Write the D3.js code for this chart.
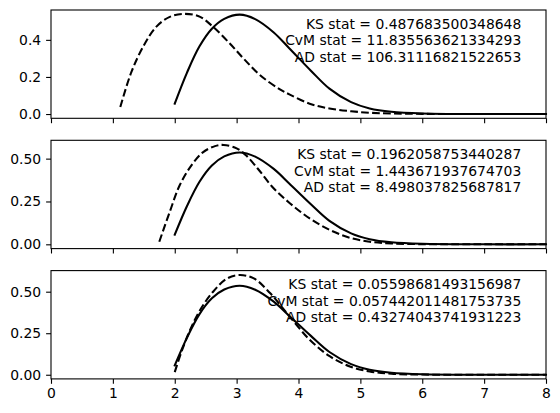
<!DOCTYPE html>
<html>
<head>
<meta charset="utf-8">
<script src="https://cdn.jsdelivr.net/npm/d3@7"></script>
<style>
  body { margin: 0; background: #fff; }
  text { font-family: "DejaVu Sans", sans-serif; }
</style>
</head>
<body>
<svg width="560" height="413"></svg>
<script>
// observed distribution (same in every panel)
const solidX = [2.0, 2.2, 2.4, 2.6, 2.8, 3.05, 3.3, 3.6, 3.85, 4.2, 4.5, 4.85, 5.15, 5.5, 6.0, 7.0, 8.0]
const solidY = [0.056, 0.225, 0.365, 0.46, 0.513, 0.536, 0.512, 0.44, 0.355, 0.234, 0.137, 0.064, 0.03, 0.012, 0.003, 0.0, 0.0]

// fitted distributions, one per panel
const dash1X = [1.12, 1.3, 1.5, 1.7, 1.92, 2.17, 2.41, 2.62, 2.89, 3.11, 3.38, 3.7, 3.86, 4.18, 4.5, 4.85, 5.15, 5.5, 6.0, 7.0, 8.0]
const dash1Y = [0.038, 0.227, 0.37, 0.47, 0.524, 0.54, 0.524, 0.47, 0.38, 0.3, 0.209, 0.133, 0.105, 0.056, 0.03, 0.015, 0.007, 0.003, 0.001, 0.0, 0.0]
const dash2X = [1.75, 1.92, 2.08, 2.27, 2.46, 2.65, 2.79, 3.0, 3.15, 3.35, 3.59, 3.86, 4.18, 4.51, 4.83, 5.15, 5.5, 6.0, 7.0, 8.0]
const dash2Y = [0.015, 0.19, 0.345, 0.461, 0.538, 0.573, 0.58, 0.56, 0.52, 0.438, 0.33, 0.24, 0.151, 0.083, 0.038, 0.015, 0.005, 0.001, 0.0, 0.0]
const dash3X = [2.0, 2.11, 2.25, 2.41, 2.62, 2.84, 3.03, 3.27, 3.54, 3.81, 4.18, 4.51, 4.83, 5.15, 5.5, 6.0, 7.0, 8.0]
const dash3Y = [0.016, 0.14, 0.271, 0.39, 0.5, 0.578, 0.6, 0.582, 0.492, 0.372, 0.211, 0.11, 0.05, 0.02, 0.006, 0.001, 0.0, 0.0]

const ksStats = ['0.487683500348648', '0.1962058753440287', '0.05598681493156987']
const cvmStats = ['11.835563621334293', '1.443671937674703', '0.057442011481753735']
const adStats = ['106.31116821522653', '8.498037825687817', '0.43274043741931223']

const xTicks = [0, 1, 2, 3, 4, 5, 6, 7, 8]
const yTicks = [[0, 0.2, 0.4], [0, 0.25, 0.5], [0, 0.25, 0.5]]
const yFormats = ['.1f', '.2f', '.2f']
const yDomains = [[-0.023, 0.561], [-0.025, 0.607], [-0.025, 0.627]]

const svg = d3.select('svg')
const left = 51, right = 546
const tops = [10, 140.3, 270.6]
const panelH = 108.3
const fs = 13.9

const xScale = d3.scaleLinear().domain([0, 8]).range([left, right])

const dashes = [[dash1X, dash1Y], [dash2X, dash2Y], [dash3X, dash3Y]]
const solid = solidX.map((x, i) => [x, solidY[i]])

tops.forEach((top, p) => {
    const yScale = d3.scaleLinear().domain(yDomains[p]).range([top + panelH, top])
    const line = d3.line()
        .x(d => xScale(d[0]))
        .y(d => yScale(d[1]))
        .curve(d3.curveCatmullRom.alpha(0.5))

    const g = svg.append('g')

    const dashed = dashes[p][0].map((x, i) => [x, dashes[p][1][i]])

    g.append('path').datum(dashed)
        .attr('d', line)
        .attr('fill', 'none')
        .attr('stroke', '#000')
        .attr('stroke-width', 2.08)
        .attr('stroke-dasharray', '7.7,3.3')

    g.append('path').datum(solid)
        .attr('d', line)
        .attr('fill', 'none')
        .attr('stroke', '#000')
        .attr('stroke-width', 2.08)
        .attr('stroke-linecap', 'square')

    // frame
    g.append('rect')
        .attr('x', left).attr('y', top)
        .attr('width', right - left).attr('height', panelH)
        .attr('fill', 'none')
        .attr('stroke', '#000')
        .attr('stroke-width', 1.1)

    const xAxis = d3.axisBottom(xScale)
        .tickValues(xTicks)
        .tickSize(4.9)
        .tickPadding(4.2)
        .tickFormat(p === 2 ? d3.format('d') : '')
    const xg = g.append('g')
        .attr('transform', `translate(0, ${top + panelH})`)
        .call(xAxis)
    xg.select('.domain').remove()

    const yAxis = d3.axisLeft(yScale)
        .tickValues(yTicks[p])
        .tickSize(4.9)
        .tickPadding(4.9)
        .tickFormat(d3.format(yFormats[p]))
    const yg = g.append('g')
        .attr('transform', `translate(${left}, 0)`)
        .call(yAxis)
    yg.select('.domain').remove()

    g.selectAll('.tick line').attr('stroke', '#000').attr('stroke-width', 1.1)
    g.selectAll('.tick text')
        .attr('fill', '#000')
        .style('font-size', fs + 'px')
        .style('font-family', '"DejaVu Sans", sans-serif')

    // stats text, right aligned at 95% of the axes
    const tx = left + 0.95 * (right - left)
    const ty = top + 0.05 * panelH + 13.2
    const lines = ['KS stat = ' + ksStats[p], 'CvM stat = ' + cvmStats[p], 'AD stat = ' + adStats[p]]
    g.selectAll('text.stat').data(lines)
        .enter().append('text')
        .attr('class', 'stat')
        .attr('x', tx)
        .attr('y', (d, i) => ty + i * 16.6)
        .attr('text-anchor', 'end')
        .style('font-size', fs + 'px')
        .attr('fill', '#000')
        .text(d => d)
})
</script>
</body>
</html>
